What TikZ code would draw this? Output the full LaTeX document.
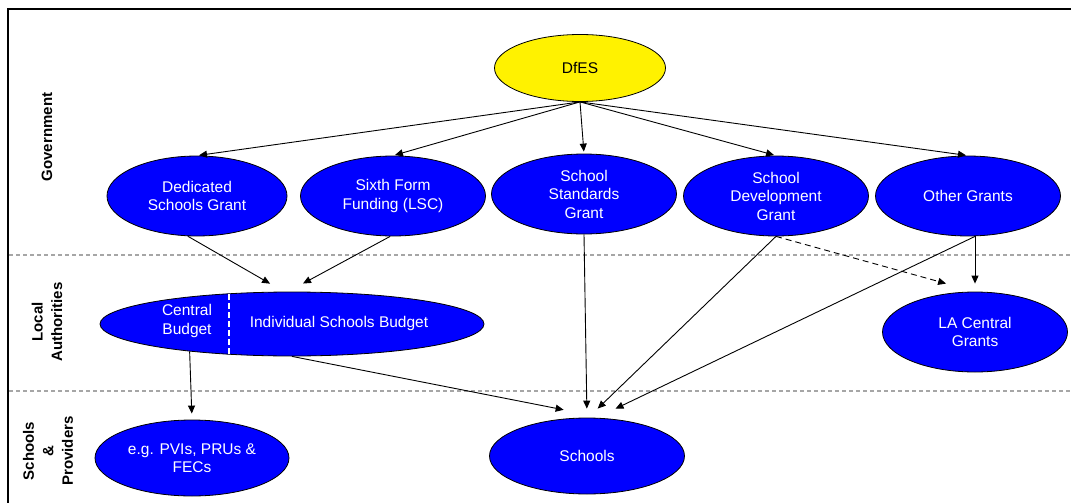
\documentclass[tikz,border=0pt]{standalone}
\usepackage{fontspec}
\setmainfont{Liberation Sans}
\usetikzlibrary{shapes.geometric,arrows.meta}

\begin{document}
\begin{tikzpicture}[x=1pt,y=-1pt,
  grant/.style={ellipse,draw=black,line width=0.8pt,fill=blue,text=white,align=center,
    inner sep=0pt,minimum width=185pt,minimum height=80pt,font=\fontsize{15.5}{18.5}\selectfont},
  budgettext/.style={text=white,align=center,font=\fontsize{15.5}{18.5}\selectfont},
  tierlabel/.style={rotate=90,align=center,font=\bfseries\fontsize{15}{19.5}\selectfont},
  arr/.style={-{Triangle[length=8pt,width=7pt]},line width=0.9pt},
  tier/.style={draw=black!35,dash pattern=on 4pt off 3pt,line width=1.2pt}]

\useasboundingbox (0,0) rectangle (1071,503);

% frame and tiers
\draw[line width=2pt] (8,503) -- (8,9) -- (1071,9);
\draw[tier] (9,255) -- (1071,255);
\draw[tier] (9,391) -- (1071,391);

\node[tierlabel] (gov) at (47,137) {Government};
\node[tierlabel] (la) at (47,322) {Local\\Authorities};
\node[tierlabel] (sp) at (48,451) {Schools\\\&\\Providers};

% government
\node[grant,fill=yellow,text=black,minimum width=171pt,minimum height=67pt] (dfes) at (580,68) {DfES};
\node[grant,minimum width=180pt] (dsg) at (197,196) {Dedicated\\Schools Grant};
\node[grant] (sff) at (393,196) {Sixth Form\\Funding (LSC)};
\node[grant] (ssg) at (584,194) {School\\Standards\\Grant};
\node[grant] (sdg) at (776,196) {School\\Development\\Grant};
\node[grant] (other) at (968,196) {Other Grants};

% local authorities
\node[grant,minimum width=384pt,minimum height=64pt] (budget) at (292,324) {};
\node[budgettext] (central) at (187,321) {Central\\Budget};
\node[budgettext] (isb) at (339,323) {Individual Schools Budget};
\draw[white,line width=1.5pt,dash pattern=on 6pt off 3pt] (229,294) -- (229,354);
\node[grant] (lacg) at (975,332) {LA Central\\Grants};

% schools and providers
\node[grant,minimum width=194pt,minimum height=76pt] (pvi) at (192,458) {e.g. PVIs, PRUs \&\\FECs};
\node[grant,minimum width=195pt,minimum height=76pt] (schools) at (587,456) {Schools};

\draw[arr,shorten >=2pt] (dfes.south) -- (dsg.north);
\draw[arr,shorten >=2pt] (dfes.south) -- (sff.north);
\draw[arr,shorten >=2pt] (dfes.south) -- (ssg.north);
\draw[arr,shorten >=2pt] (dfes.south) -- (sdg.north);
\draw[arr,shorten >=2pt] (dfes.south) -- (other.north);

\draw[arr,shorten >=16pt] (dsg.257) -- (budget.104);
\draw[arr,shorten >=17pt] (sff.266) -- (budget.97);
\draw[arr,shorten >=6pt] (budget.195) -- (pvi.north);

\draw[arr,shorten >=45pt] (budget.south) -- (schools.61);
\draw[arr,shorten >=9pt] (ssg.south) -- (schools.north);
\draw[arr,shorten >=13pt] (sdg.south) -- (schools.88);
\draw[arr,shorten >=21pt] (lacg.north |- other.south) -- (schools.76);
\draw[arr,shorten >=8pt] (lacg.north |- other.south) -- (lacg.north);
\draw[arr,dash pattern=on 6pt off 4pt,shorten >=30pt] (sdg.south) -- (lacg.north);
\end{tikzpicture}
\end{document}
